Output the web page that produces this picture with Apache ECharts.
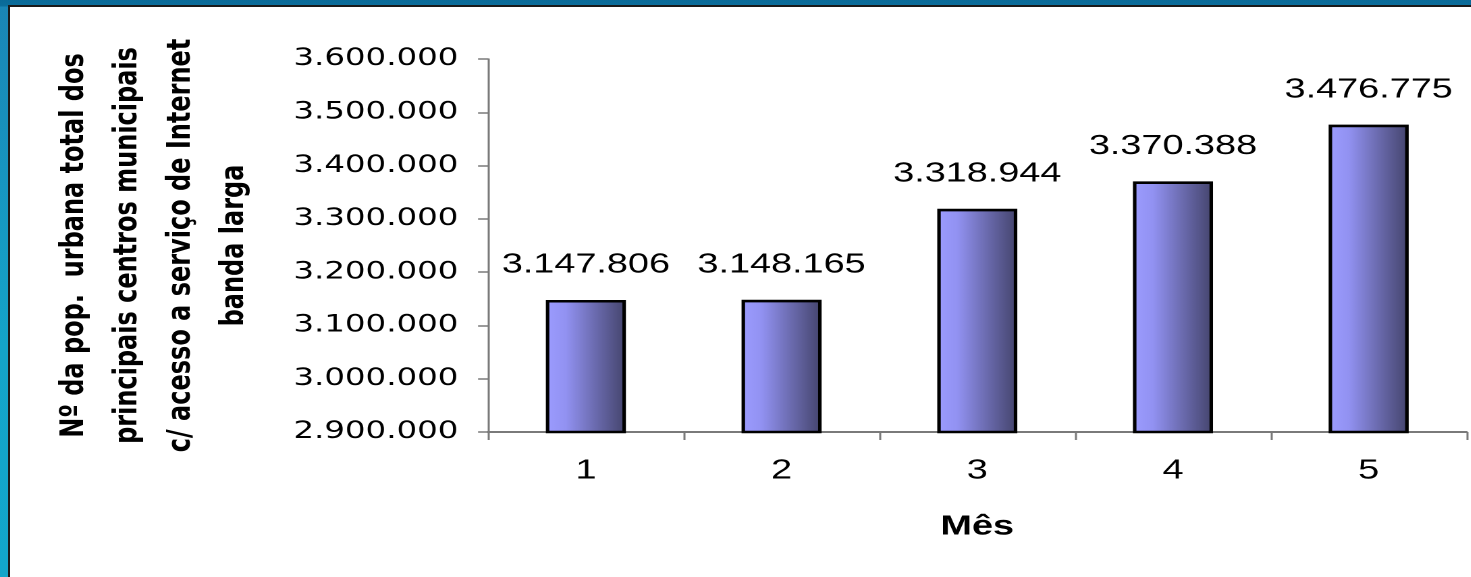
<!DOCTYPE html>
<html>
<head>
<meta charset="utf-8">
<script src="https://cdn.jsdelivr.net/npm/echarts@6/dist/echarts.min.js"></script>
<style>
  html, body { margin: 0; padding: 0; width: 1471px; height: 577px; overflow: hidden; }
  body { background: linear-gradient(to bottom, #0a6a98 0px, #0b6e9c 6px, #1a86b6 7px, #14a4c9 60%, #12a6ca 100%); position: relative; }
  #panel { position: absolute; left: 8px; top: 5px; right: 0; bottom: 0; background: #ffffff; border-left: 2px solid #1a1a1a; border-top: 2px solid #1a1a1a; }
  #chart { position: absolute; left: 0; top: 0; width: 1089.6px; height: 577px; transform-origin: 0 0; transform: scaleX(1.35); }
</style>
</head>
<body>
<div id="panel"></div>
<div id="chart"></div>
<script>
// ---- data ----
const months = ['1', '2', '3', '4', '5'];
const population = [3147806, 3148165, 3318944, 3370388, 3476775];
const yMin = 2900000;
const yMax = 3600000;
const yStep = 100000;
const xTitle = 'Mês';
const yTitleLines = [
  'Nº da pop.  urbana total dos',
  'principais centros municipais',
  'c/ acesso a serviço de Internet',
  'banda larga'
];

function fmt(v) {
  return String(Math.round(v)).replace(/\B(?=(\d{3})+(?!\d))/g, '.');
}

const chart = echarts.init(document.getElementById('chart'), null, { renderer: 'canvas', devicePixelRatio: 2 });
const axisGray = '#7a7a7a';

chart.setOption({
  animation: false,
  backgroundColor: 'transparent',
  grid: { left: 361.5, right: 3.7, top: 59, bottom: 145, containLabel: false },
  xAxis: {
    type: 'category',
    data: months,
    boundaryGap: true,
    name: xTitle,
    nameLocation: 'middle',
    nameGap: 81,
    nameTextStyle: { fontFamily: 'Liberation Sans, Arial, sans-serif', fontWeight: 'bold', fontSize: 28, color: '#000' },
    axisLine: { lineStyle: { color: axisGray, width: 2 } },
    axisTick: { show: true, length: 8, alignWithLabel: false, lineStyle: { color: axisGray, width: 1.5 } },
    axisLabel: { margin: 25, fontFamily: 'Liberation Sans, Arial, sans-serif', fontSize: 28, color: '#000' },
    splitLine: { show: false }
  },
  yAxis: {
    type: 'value',
    min: yMin,
    max: yMax,
    interval: yStep,
    name: yTitleLines.join('\n'),
    nameLocation: 'middle',
    nameRotate: 90,
    nameGap: 168,
    nameTextStyle: { fontFamily: 'DejaVu Sans, sans-serif', fontWeight: 'bold', fontSize: 24, lineHeight: 39.5, color: '#000', align: 'center' },
    axisLine: { show: true, lineStyle: { color: axisGray, width: 1.5 } },
    axisTick: { show: true, length: 7.4, lineStyle: { color: axisGray, width: 1.5 } },
    axisLabel: { margin: 22, fontFamily: 'DejaVu Sans, sans-serif', fontSize: 24, color: '#000', formatter: fmt },
    splitLine: { show: false }
  },
  series: [{
    type: 'bar',
    data: population,
    barWidth: 59.3,
    itemStyle: {
      borderColor: '#000',
      borderWidth: 2.6,
      color: new echarts.graphic.LinearGradient(0, 0, 1, 0, [
        { offset: 0, color: '#9c9cff' },
        { offset: 0.25, color: '#9292f2' },
        { offset: 0.6, color: '#6d6db2' },
        { offset: 1, color: '#44446c' }
      ])
    },
    label: {
      show: true,
      position: 'top',
      distance: 21,
      fontFamily: 'Liberation Sans, Arial, sans-serif',
      fontSize: 28,
      color: '#000',
      formatter: p => fmt(p.value)
    }
  }]
});
</script>
</body>
</html>
